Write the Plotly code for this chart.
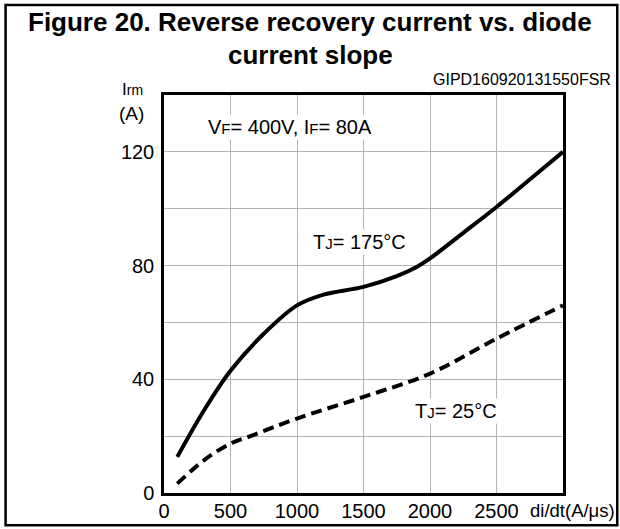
import plotly.graph_objects as go

didt_175 = [100, 300, 500, 750, 1000, 1200, 1500, 1750, 1900, 2000, 2250, 2500, 2750, 3000]
irm_175 = [12.7, 29, 43, 56, 66, 69.8, 72.5, 76.3, 79.5, 82.5, 91.5, 100.6, 110.3, 120]

didt_25 = [100, 300, 500, 650, 1000, 1500, 2000, 2500, 3000]
irm_25 = [3.3, 11.5, 17.4, 20, 26.2, 33.8, 42, 54.3, 66]

xtick_vals = [0, 500, 1000, 1500, 2000, 2500]
ytick_vals = [0, 20, 40, 60, 80, 100, 120, 140]
ytick_text = ['0', '', '40', '', '80', '', '120', '']

W, H = 620, 529
L, R, T, B = 163.5, 562.7, 95, 492.7
FONT = 'Liberation Sans, Arial, sans-serif'


def px_x(p):
    return (p - L) / (R - L)


def px_y(p):
    return (B - p) / (B - T)


fig = go.Figure()
fig.add_trace(go.Scatter(x=didt_175, y=irm_175, mode='lines', line=dict(color='black', width=4, shape='spline'),
                         name='TJ=175°C'))
fig.add_trace(go.Scatter(x=didt_25, y=irm_25, mode='lines',
                         line=dict(color='black', width=4, dash='11px,6px', shape='spline'), name='TJ=25°C'))

axis_style = dict(showgrid=True, gridcolor='#b4b4b4', gridwidth=1, showline=True, linecolor='black',
                  linewidth=2.5, mirror=True, ticks='', zeroline=False, automargin=False,
                  tickfont=dict(size=20, color='black', family=FONT))
fig.update_xaxes(range=[0, 3000], tickvals=xtick_vals, ticklabelstandoff=-2, **axis_style)
fig.update_yaxes(range=[0, 140], tickvals=ytick_vals, ticktext=ytick_text, ticklabelstandoff=3, **axis_style)

sm = '<span style="font-size:15px">%s</span>'


def f(s, size=20, **k):
    return dict(text=s, xref='paper', yref='paper', showarrow=False,
                font=dict(family=FONT, color='black', size=size), **k)


annotations = [
    f('<b>Figure 20. Reverse recovery current vs. diode</b>', size=26, x=px_x(310), y=px_y(22),
      xanchor='center', yanchor='middle'),
    f('<b>current slope</b>', size=26, x=px_x(310), y=px_y(55), xanchor='center', yanchor='middle'),
    f('GIPD160920131550FSR', size=16, x=px_x(613), y=px_y(80), xanchor='right', yanchor='middle'),
    f('I<span style="font-size:14px">rm</span>', size=17, x=px_x(119), y=px_y(89.5), xanchor='left',
      yanchor='middle'),
    f('(A)', size=19, x=px_x(131), y=px_y(113), xanchor='center', yanchor='middle'),
    f('V' + sm % 'F' + '= 400V, I' + sm % 'F' + '= 80A', x=px_x(206), y=px_y(127), xanchor='left',
      yanchor='middle', bgcolor='white'),
    f('T' + sm % 'J' + '= 175°C', x=px_x(311), y=px_y(242), xanchor='left', yanchor='middle', bgcolor='white'),
    f('T' + sm % 'J' + '= 25°C', x=px_x(413), y=px_y(411), xanchor='left', yanchor='middle', bgcolor='white'),
    f('di/dt(A/μs)', size=18.5, x=px_x(528), y=px_y(510), xanchor='left', yanchor='middle'),
]

fig.add_shape(type='rect', xref='paper', yref='paper', x0=px_x(5), x1=px_x(617), y0=px_y(525), y1=px_y(5),
              line=dict(color='black', width=2.5), fillcolor='rgba(0,0,0,0)')

fig.update_layout(width=W, height=H, margin=dict(l=L, r=W - R, t=T, b=H - B, autoexpand=False),
                  showlegend=False, plot_bgcolor='white', paper_bgcolor='white', annotations=annotations,
                  font=dict(family=FONT, color='black'))

fig.write_html("out.html", config={'displayModeBar': False},
               post_script="document.body.style.margin='0';document.body.style.overflow='hidden';"
                           "document.documentElement.style.overflow='hidden';")
